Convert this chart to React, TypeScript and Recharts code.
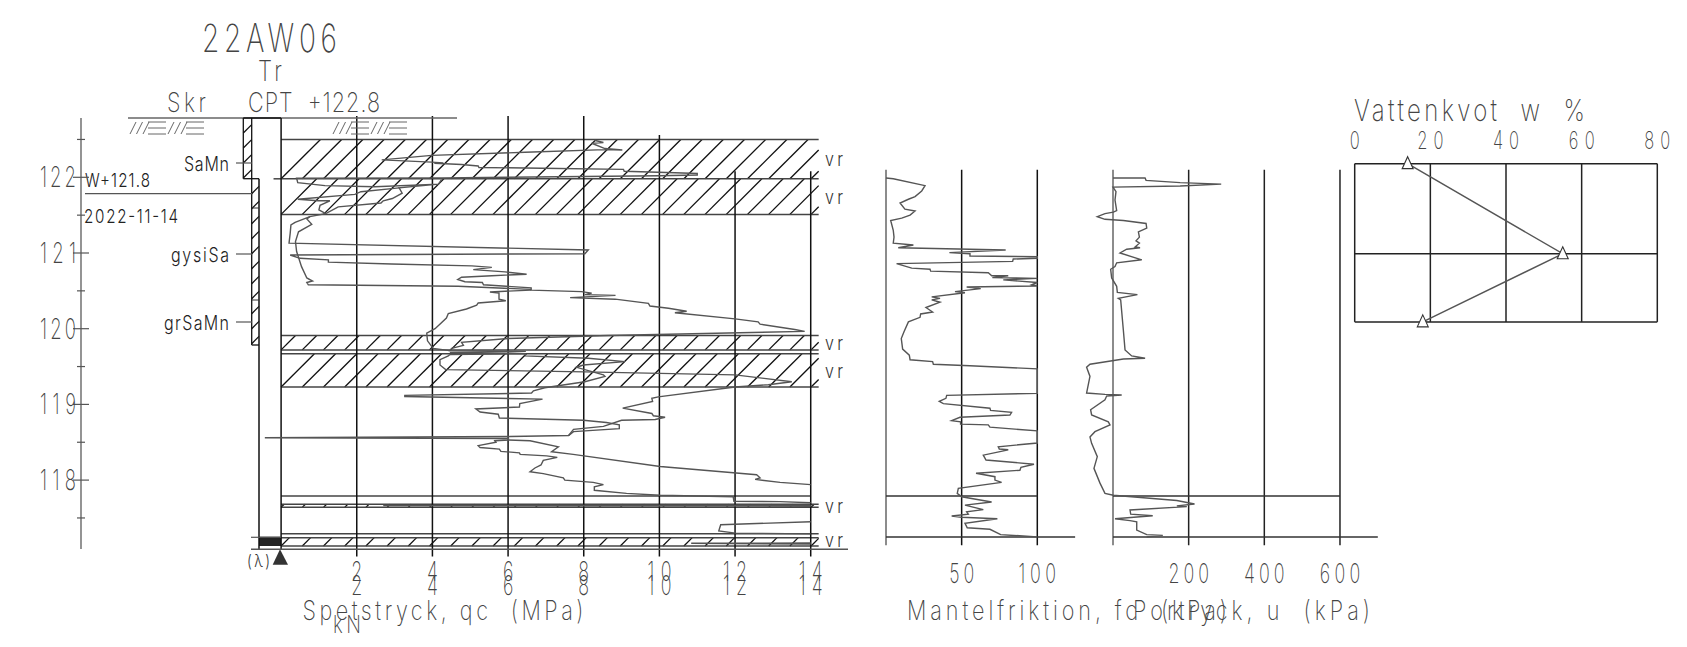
import { ComposedChart, Scatter, XAxis, YAxis, ReferenceLine, ReferenceArea } from 'recharts';

type Row = [number, number];

const WIDTH = 1687;
const HEIGHT = 647;
const INK = '#555';
const LABEL = '#444';
const GRID = '#111';
const FONT = 'Inter, Roboto, sans-serif';

// Depth rows are [reading, elevation in m]
const qcTop: Row[] = [
    [8.28, 122.49], [8.52, 122.46], [8.21, 122.45], [8.56, 122.38], [9.02, 122.36], [8.56, 122.365], [6.45, 122.33],
    [3.98, 122.29], [2.66, 122.23], [3.98, 122.2], [4.29, 122.19], [4.05, 122.185], [4.77, 122.17], [5.21, 122.15],
    [5.23, 122.13], [6.89, 122.12], [9.05, 122.105], [9.07, 122.08], [10.41, 122.06], [11.0, 122.05], [11.0, 122.03],
    [10.0, 122.02], [6.0, 122.0], [4.24, 121.99], [0.41, 121.987], [0.44, 121.93], [1.16, 121.89], [2.48, 121.876],
    [4.16, 121.91], [4.24, 121.97], [4.16, 121.91], [3.12, 121.86], [3.2, 121.79], [2.94, 121.72], [2.7, 121.69],
    [2.64, 121.66], [1.51, 121.61], [1.18, 121.52], [0.76, 121.48], [0.37, 121.405], [0.26, 121.37], [0.24, 121.26],
    [0.21, 121.13], [8.12, 121.04], [8.03, 120.99], [0.24, 120.974], [0.5, 120.93], [1.25, 120.91], [1.25, 120.88],
    [2.92, 120.855], [5.04, 120.83], [5.57, 120.81], [5.08, 120.78], [5.92, 120.75], [6.49, 120.72], [5.57, 120.7],
    [4.77, 120.68], [4.67, 120.65], [4.86, 120.62], [5.32, 120.61], [5.35, 120.58], [6.61, 120.54], [6.61, 120.51],
    [7.94, 120.49], [8.21, 120.47], [8.03, 120.45], [8.84, 120.44], [7.64, 120.41], [8.83, 120.39], [9.71, 120.335],
    [9.75, 120.3], [10.24, 120.27], [10.72, 120.23], [10.41, 120.21], [12.0, 120.13], [12.61, 120.09], [12.66, 120.06],
    [13.58, 119.99], [13.84, 119.965], [8.65, 119.91], [6.0, 119.87], [4.77, 119.82], [4.82, 119.78], [4.51, 119.74],
    [4.46, 119.71], [6.47, 119.7], [4.46, 119.685], [6.47, 119.67], [4.46, 119.66],
];
const qcLobe: Row[] = [
    [3.12, 121.86], [2.11, 121.81], [1.95, 121.775], [0.44, 121.71], [0.98, 121.69], [1.29, 121.69], [1.03, 121.63],
    [1.0, 121.57], [1.18, 121.52],
];
const qcLeftRoute: Row[] = [
    [0.76, 121.48], [0.68, 121.45], [0.81, 121.38], [0.46, 121.28], [0.38, 121.15], [0.41, 121.02], [0.54, 120.82],
    [0.68, 120.67], [0.83, 120.63], [0.68, 120.61], [0.72, 120.58], [4.68, 120.56], [6.61, 120.52],
];
const qcLowLoop: Row[] = [
    [6.61, 120.51], [5.52, 120.485], [5.76, 120.47], [5.76, 120.39], [5.94, 120.37], [5.21, 120.34], [5.17, 120.31],
    [4.9, 120.26], [4.42, 120.2], [4.37, 120.14], [4.07, 120.0], [3.85, 119.94], [3.87, 119.84], [4.02, 119.74],
    [4.46, 119.71],
];
const qcWideRun: Row[] = [
    [4.46, 119.66], [4.42, 119.64], [4.2, 119.59], [4.2, 119.52], [4.35, 119.46], [8.03, 119.43], [12.0, 119.39],
    [13.5, 119.3], [12.88, 119.26], [12.0, 119.23], [9.97, 119.1], [9.8, 119.08], [9.82, 119.04], [9.03, 118.95],
    [9.8, 118.88], [9.84, 118.85], [10.15, 118.83], [9.89, 118.8], [9.0, 118.79], [8.52, 118.71], [7.73, 118.67],
    [7.6, 118.59],
];
const qcNarrowRun: Row[] = [
    [6.47, 119.67], [6.45, 119.64], [8.12, 119.61], [9.09, 119.565], [7.99, 119.52], [7.81, 119.49], [8.52, 119.39],
    [8.56, 119.37], [8.03, 119.3], [6.97, 119.22], [6.67, 119.18], [6.62, 119.15], [3.27, 119.12], [3.27, 119.105],
    [6.91, 119.07], [6.31, 119.01], [6.3, 118.965], [5.15, 118.94], [5.26, 118.9], [5.74, 118.87], [5.77, 118.82],
    [7.99, 118.79], [8.6, 118.76], [8.94, 118.73], [8.94, 118.68], [7.73, 118.64], [7.6, 118.59], [6.05, 118.575],
    [-0.43, 118.56], [6.01, 118.55], [6.01, 118.53], [5.65, 118.52], [5.68, 118.5], [5.21, 118.455], [5.26, 118.43], [5.77, 118.41],
    [5.81, 118.38], [6.3, 118.36], [6.32, 118.34], [7.02, 118.32], [7.3, 118.3], [6.93, 118.26], [6.87, 118.2],
    [6.71, 118.16], [6.58, 118.11], [6.93, 118.085], [7.46, 118.03], [7.5, 118.0], [8.25, 117.97], [8.52, 117.94],
    [8.28, 117.91], [8.28, 117.865], [9.13, 117.825], [10.02, 117.8], [11.95, 117.78], [11.97, 117.72], [13.19, 117.715],
    [14, 117.7],
];
const qcRightRun: Row[] = [
    [6.01, 118.53], [6.58, 118.52], [7.33, 118.44], [7.15, 118.375], [7.72, 118.34], [10.02, 118.18], [12.57, 118.07],
    [12.66, 118.03], [12.53, 118.01], [13.19, 117.97], [14, 117.94],
];
const qcBand: Row[] = [[14, 117.67], [2.7, 117.665], [14, 117.655]];
const qcHook: Row[] = [[14, 117.45], [11.62, 117.41], [11.57, 117.33], [12.01, 117.3], [14, 117.29]];
const qcTail: Row[] = [[14, 117.17], [10.84, 117.165], [14, 117.155]];

const fsProfile: Row[] = [
    [0, 121.99], [4.8, 121.98], [25.8, 121.89], [23.6, 121.82], [19.2, 121.745], [14.8, 121.71], [9.3, 121.66], [12.5, 121.58],
    [19.2, 121.555], [15.9, 121.5], [10.4, 121.46], [3.1, 121.43], [4.8, 121.3], [5.3, 121.21], [4.8, 121.13], [18.1, 121.105],
    [8.1, 121.07], [79.1, 121.04], [41.9, 121.005], [55.5, 120.99], [55.5, 120.96], [100, 120.95], [100, 120.93], [84.1, 120.92],
    [83.7, 120.89], [7, 120.86], [17, 120.8], [29.1, 120.785], [29.5, 120.76], [67.6, 120.74], [69.9, 120.7], [80.8, 120.7],
    [70.3, 120.675], [100, 120.665], [77.5, 120.645], [100, 120.61], [96.3, 120.58], [100, 120.565], [53.3, 120.55], [62.6, 120.53],
    [45.6, 120.49], [52.2, 120.475], [30.2, 120.42], [35.7, 120.4], [30.2, 120.38], [35.7, 120.35], [26.4, 120.28], [30.8, 120.22],
    [22.9, 120.195], [22.5, 120.15], [14.8, 120.09], [11.9, 119.96], [10.1, 119.87], [11, 119.73], [15.4, 119.65], [15.9, 119.59],
    [30.8, 119.565], [31.3, 119.53], [55.5, 119.51], [100, 119.47], [100, 119.146], [40.1, 119.12], [39.6, 119.08], [35.2, 119.04],
    [37.9, 119.01], [68.7, 118.95], [69.1, 118.92], [83, 118.895], [81.9, 118.86], [48.9, 118.83], [43.4, 118.785], [49.3, 118.77],
    [49.3, 118.74], [67.6, 118.73], [68.7, 118.7], [100, 118.65], [100, 118.49], [74.2, 118.44], [74.9, 118.41], [80.8, 118.4],
    [64.3, 118.33], [66.1, 118.265], [97.8, 118.21], [89.2, 118.17], [88.5, 118.13], [59.5, 118.09], [72, 118.045], [72, 118.0],
    [76.4, 117.97], [47.8, 117.89], [47.1, 117.825], [50, 117.78], [69.8, 117.71], [52.2, 117.67], [64.3, 117.61], [53.3, 117.58],
    [54.4, 117.55], [43.4, 117.525], [50, 117.51], [73.6, 117.49], [52.2, 117.43], [53.7, 117.37], [68.7, 117.35], [75.8, 117.28],
    [100, 117.25],
];

const poreProfile: Row[] = [
    [0, 121.99], [84.8, 121.99], [87.4, 121.96], [177.5, 121.93], [286, 121.91], [177.5, 121.885], [0, 121.87], [7.9, 121.81],
    [5.3, 121.7], [9.7, 121.56], [0.9, 121.54], [-21.2, 121.52], [-41.5, 121.48], [-21.2, 121.445], [27.4, 121.43], [87.4, 121.39],
    [89.2, 121.33], [67.1, 121.28], [69.8, 121.21], [60.9, 121.16], [69.8, 121.13], [58.3, 121.08], [71.5, 121.07], [36.2, 121.05],
    [18.5, 121.0], [75.9, 120.91], [9.7, 120.87], [5.3, 120.82], [-6.2, 120.785], [-3.5, 120.67], [9.7, 120.56], [11.5, 120.48],
    [64.5, 120.45], [14.1, 120.4], [20.3, 120.38], [27.4, 119.98], [31.8, 119.72], [49.4, 119.64], [84.8, 119.61], [27.4, 119.6],
    [-60.9, 119.53], [-69.8, 119.49], [-60.9, 119.37], [-69.8, 119.15], [-21.2, 119.133], [23, 119.125], [-16.8, 119.11], [-21.2, 119.06],
    [-59.2, 118.93], [-56.5, 118.86], [-12.4, 118.77], [-7.9, 118.73], [-47.7, 118.64], [-60.9, 118.57], [-56.5, 118.485], [-41.5, 118.31],
    [-50.3, 118.155], [-34.4, 117.96], [-21.2, 117.825], [0.9, 117.8], [168.7, 117.73], [215.5, 117.685], [168.7, 117.66], [195.1, 117.65],
    [45, 117.605], [46.8, 117.55], [105, 117.53], [5.3, 117.49], [45, 117.465], [62.7, 117.45], [62.7, 117.34], [89.2, 117.28],
    [131.6, 117.27], [89.2, 117.25],
];

const waterContent: Row[] = [[14, 122.18], [55, 120.99], [18, 120.09]];

const elevationTicks = [117.5, 118, 118.5, 119, 119.5, 120, 120.5, 121, 121.5, 122, 122.5];
const qcTicks = [2, 4, 6, 8, 10, 12, 14];
const qcGridTops = [122.81, 122.81, 122.81, 122.81, 122.56, 122.08, 122.08];
const fsTicks = [50, 100];
const poreTicks = [200, 400, 600];
const waterTicks = [0, 20, 40, 60, 80];
const vrLayers: Row[] = [[122.5, 121.98], [121.98, 121.51], [119.91, 119.72], [119.67, 119.23], [117.68, 117.64], [117.24, 117.13]];
const layerLines = [122.5, 121.98, 121.51, 119.91, 119.72, 119.67, 119.23, 117.68, 117.64, 117.29, 117.24, 117.13];

// Every axis spans the whole sheet, so panels line up with the drawing's own offsets
const sheetDomain = (origin: number, pxPerUnit: number) => [-origin / pxPerUnit, (WIDTH - origin) / pxPerUnit];
const elevDomain = [121 - (HEIGHT - 253) / 75.7, 121 + 253 / 75.7];

const toPoints = (rows: Row[]) => rows.map(([x, y]) => ({ x, y }));

// Squeezes glyphs sideways and lets tracking fill up, close to the plotter font
const Txt = ({ x, y, w, size, children, anchor = 'start', color = LABEL, weight = 250, squeeze = 0.8 }: any) => (
    <text transform={`translate(${x},${y}) scale(${squeeze},1)`} fontSize={size} textAnchor={anchor} fill={color}
        fontFamily={FONT} fontWeight={weight} textLength={w / squeeze} lengthAdjust="spacing"
        style={{ whiteSpace: 'pre' }}>{children}</text>
);

const Hatch = ({ x, y, width, height, spacing = 21.2, fromCorner = true }: any) => {
    const lines = [];
    const bottom = y + height;
    const first = fromCorner ? x + bottom : x + y;
    for (let c = first; c < x + width + bottom; c += spacing) {
        const x1 = Math.max(x, c - bottom);
        const x2 = Math.min(x + width, c - y);
        if (x2 > x1) lines.push(<line key={c} x1={x1} y1={c - x1} x2={x2} y2={c - x2} stroke="#111" strokeWidth={1.3} />);
    }
    return <g>{lines}</g>;
};

const Triangle = ({ cx, cy }: any) => (
    <polygon points={`${cx},${cy - 7} ${cx + 5.5},${cy + 5} ${cx - 5.5},${cy + 5}`} fill="#fff" stroke="#333" strokeWidth={1.1} />
);

const noMark = () => <g />;

const sheetLine = (x1: number, y1: number, x2: number, y2: number, stroke = '#333', strokeWidth = 1.3) => (
    <ReferenceLine key={`${x1}-${y1}-${x2}-${y2}`} xAxisId="sheet" yAxisId="sheet" ifOverflow="visible"
        segment={[{ x: x1, y: y1 }, { x: x2, y: y2 }]} stroke={stroke} strokeWidth={strokeWidth} />
);

const axisLine = (axis: string, x1: number, y1: number, x2: number, y2: number, stroke = GRID, strokeWidth = 1.5) => (
    <ReferenceLine key={`${axis}-${x1}-${y1}-${x2}-${y2}`} xAxisId={axis} yAxisId="elev" ifOverflow="visible"
        segment={[{ x: x1, y: y1 }, { x: x2, y: y2 }]} stroke={stroke} strokeWidth={strokeWidth} />
);

const groundMark = (dx: number) => {
    const parts = [];
    for (const base of [130, 168]) {
        for (const s of [0, 6.5, 13]) parts.push(sheetLine(base + dx + s, 134, base + dx + s + 6, 122, '#666', 1));
        for (const row of [122, 128, 134]) parts.push(sheetLine(base + dx + 18, row, base + dx + 36, row, '#666', 1));
    }
    return parts;
};

const tickText = (baseline: number, digitWidth: number, size: number) => ({ x, payload }: any) => (
    <Txt x={x} y={baseline} size={size} anchor="middle" squeeze={0.66} w={String(payload.value).length * digitWidth}>{payload.value}</Txt>
);

const ElevationTick = ({ y, payload }: any) => {
    const major = Number.isInteger(payload.value);
    return (
        <g>
            <line x1={major ? 73 : 77} x2={major ? 89 : 85} y1={y} y2={y} stroke={INK} strokeWidth={1.2} />
            {major && <Txt x={40} y={y + 10} size={28} w={36} squeeze={0.66}>{String(payload.value)}</Txt>}
        </g>
    );
};

const bottomAxis = { type: 'number', dataKey: 'x', interval: 0, height: 1, mirror: true, axisLine: false, tickLine: false, allowDataOverflow: true } as const;

export default function App() {
    return (
        <div style={{ position: 'absolute', left: 0, top: 0, width: WIDTH, height: HEIGHT }}>
            <ComposedChart width={WIDTH} height={HEIGHT} margin={{ top: 0, right: 0, bottom: 0, left: 0 }}>
                <XAxis xAxisId="sheet" type="number" dataKey="x" domain={[0, WIDTH]} allowDataOverflow hide />
                <XAxis {...bottomAxis} xAxisId="qc" domain={sheetDomain(281.1, 37.83)} ticks={qcTicks} tick={tickText(581, 12, 27)} />
                <XAxis {...bottomAxis} xAxisId="qcLower" domain={sheetDomain(281.1, 37.83)} ticks={qcTicks} tick={tickText(595, 12, 27)} />
                <XAxis {...bottomAxis} xAxisId="fs" domain={sheetDomain(886, 1.513)} ticks={fsTicks} tick={tickText(583, 12.5, 27)} />
                <XAxis {...bottomAxis} xAxisId="pore" domain={sheetDomain(1113, 0.3783)} ticks={poreTicks} tick={tickText(583, 13.5, 27)} />
                <XAxis {...bottomAxis} xAxisId="water" domain={sheetDomain(1354.7, 3.7825)} ticks={waterTicks} tick={tickText(149, 13, 25)} />
                <YAxis yAxisId="sheet" type="number" dataKey="y" domain={[0, HEIGHT]} reversed allowDataOverflow hide />
                <YAxis yAxisId="elev" type="number" dataKey="y" domain={elevDomain} ticks={elevationTicks} interval={0} width={1} mirror
                    axisLine={false} tickLine={false} tick={ElevationTick} allowDataOverflow />

                {vrLayers.map(([top, bottom]) => (
                    <ReferenceArea key={top} xAxisId="qc" yAxisId="elev" x1={0} x2={14.21} y1={bottom} y2={top} ifOverflow="visible"
                        shape={(p: any) => <Hatch x={p.x} y={p.y} width={p.width} height={p.height} />} />
                ))}
                {layerLines.map((e) => axisLine('qc', 0, e, 14.21, e, '#444', 1.5))}
                {axisLine('qc', -0.2, 121.98, 0, 121.98, '#444', 1.5)}
                {axisLine('qc', 0, 117.79, 14, 117.79, '#444', 1.5)}
                {qcTicks.map((t, i) => axisLine('qc', t, qcGridTops[i], t, 116.99))}

                {[0, ...fsTicks].map((t) => axisLine('fs', t, 122.1, t, 117.14, t === 0 ? '#666' : GRID))}
                {axisLine('fs', 0, 117.79, 100, 117.79, '#333')}
                {axisLine('fs', 0, 117.25, 125, 117.25, '#333')}
                {[0, ...poreTicks].map((t) => axisLine('pore', t, 122.1, t, 117.14, t === 0 ? '#666' : '#222'))}
                {axisLine('pore', 0, 117.79, 600, 117.79, '#333')}
                {axisLine('pore', 0, 117.25, 700, 117.25, '#333')}
                {waterTicks.map((t) => axisLine('water', t, 122.18, t, 120.09, '#222'))}
                {waterContent.map(([, e]) => axisLine('water', 0, e, 80, e, '#222'))}

                {/* Elevation ruler and borehole column */}
                {sheetLine(81, 118, 81, 549, '#666', 1.4)}
                {sheetLine(128, 118, 457, 118, '#666', 1.4)}
                {sheetLine(243.3, 118, 281, 118, '#111', 1.5)}
                {sheetLine(243.3, 118, 243.3, 178.7, '#111', 1.3)}
                {sheetLine(243.3, 178.7, 259, 178.7, '#111', 1.3)}
                {sheetLine(251.7, 118, 251.7, 345, '#111', 1.3)}
                {sheetLine(259, 178.7, 259, 549, '#111', 1.5)}
                {sheetLine(281.1, 118, 281.1, 549, '#111', 1.5)}
                {sheetLine(251.7, 345, 259, 345, '#111', 1.3)}
                {sheetLine(252, 208, 259, 208, '#333', 1)}
                {sheetLine(252, 300, 259, 300, '#333', 1)}
                <ReferenceArea xAxisId="sheet" yAxisId="sheet" x1={243.3} x2={251.7} y1={118} y2={178.7} ifOverflow="visible"
                    shape={(p: any) => <Hatch x={p.x} y={p.y} width={p.width} height={p.height} spacing={15} fromCorner={false} />} />
                <ReferenceArea xAxisId="sheet" yAxisId="sheet" x1={251.7} x2={259} y1={178.7} y2={345} ifOverflow="visible"
                    shape={(p: any) => <Hatch x={p.x} y={p.y} width={p.width} height={p.height} spacing={15} fromCorner={false} />} />
                <ReferenceArea xAxisId="sheet" yAxisId="sheet" x1={259} x2={281} y1={536.7} y2={546} ifOverflow="visible" fill="#222" fillOpacity={1} />
                {sheetLine(251, 537.3, 281, 537.3, '#555', 1.2)}
                {sheetLine(251, 549.3, 848, 549.3, '#555', 1.4)}
                {sheetLine(85, 193.7, 252, 193.7, '#555', 1.3)}
                {sheetLine(236, 163, 252, 163, '#555', 1.2)}
                {sheetLine(236, 254, 252, 254, '#555', 1.2)}
                {sheetLine(236, 322, 252, 322, '#555', 1.2)}
                {groundMark(0)}
                {groundMark(203)}
                <polygon points="280,549.3 288,564.7 272.7,564.7" fill="#333" />

                {[qcTop, qcLobe, qcLeftRoute, qcLowLoop, qcWideRun, qcNarrowRun, qcRightRun, qcBand, qcHook, qcTail].map((run, i) => (
                    <Scatter key={i} xAxisId="qc" yAxisId="elev" data={toPoints(run)} line={{ stroke: INK, strokeWidth: 1.4 }}
                        shape={noMark} isAnimationActive={false} />
                ))}
                <Scatter xAxisId="fs" yAxisId="elev" data={toPoints(fsProfile)} line={{ stroke: INK, strokeWidth: 1.4 }}
                    shape={noMark} isAnimationActive={false} />
                <Scatter xAxisId="pore" yAxisId="elev" data={toPoints(poreProfile)} line={{ stroke: INK, strokeWidth: 1.4 }}
                    shape={noMark} isAnimationActive={false} />
                <Scatter xAxisId="water" yAxisId="elev" data={toPoints(waterContent)} line={{ stroke: INK, strokeWidth: 1.4 }}
                    shape={Triangle} isAnimationActive={false} />

                <Txt x={202} y={52} size={39} w={135} squeeze={0.72}>22AW06</Txt>
                <Txt x={258} y={81} size={28} w={24}>Tr</Txt>
                <Txt x={167} y={112} size={27} w={39}>Skr</Txt>
                <Txt x={248} y={112} size={27} w={132}>CPT  +122.8</Txt>
                <Txt x={184} y={171} size={20} w={45} color="#222" weight={300}>SaMn</Txt>
                <Txt x={85} y={187} size={19} w={65} color="#222" weight={300}>W+121.8</Txt>
                <Txt x={84} y={223} size={19} w={94} color="#222" weight={300}>2022-11-14</Txt>
                <Txt x={171} y={262} size={20} w={58} color="#222" weight={300}>gysiSa</Txt>
                <Txt x={164} y={330} size={20} w={65} color="#222" weight={300}>grSaMn</Txt>
                <Txt x={825} y={166} size={20} w={18} color="#333" weight={300}>vr</Txt>
                <Txt x={825} y={204} size={20} w={18} color="#333" weight={300}>vr</Txt>
                <Txt x={825} y={350} size={20} w={18} color="#333" weight={300}>vr</Txt>
                <Txt x={825} y={378} size={20} w={18} color="#333" weight={300}>vr</Txt>
                <Txt x={825} y={513} size={20} w={18} color="#333" weight={300}>vr</Txt>
                <Txt x={825} y={547} size={20} w={18} color="#333" weight={300}>vr</Txt>
                <Txt x={247} y={567} size={17} w={23} color="#333" weight={300}>(λ)</Txt>
                <Txt x={302.5} y={620} size={27} w={281}>Spetstryck, qc  (MPa)</Txt>
                <Txt x={333} y={633} size={24} w={28}>kN</Txt>
                <Txt x={907} y={620} size={27} w={320}>Mantelfriktion, fc  (kPa)</Txt>
                <Txt x={1133} y={620} size={27} w={237}>Portryck, u  (kPa)</Txt>
                <Txt x={1354} y={120.7} size={30} w={231}>Vattenkvot  w  %</Txt>
            </ComposedChart>
        </div>
    );
}
